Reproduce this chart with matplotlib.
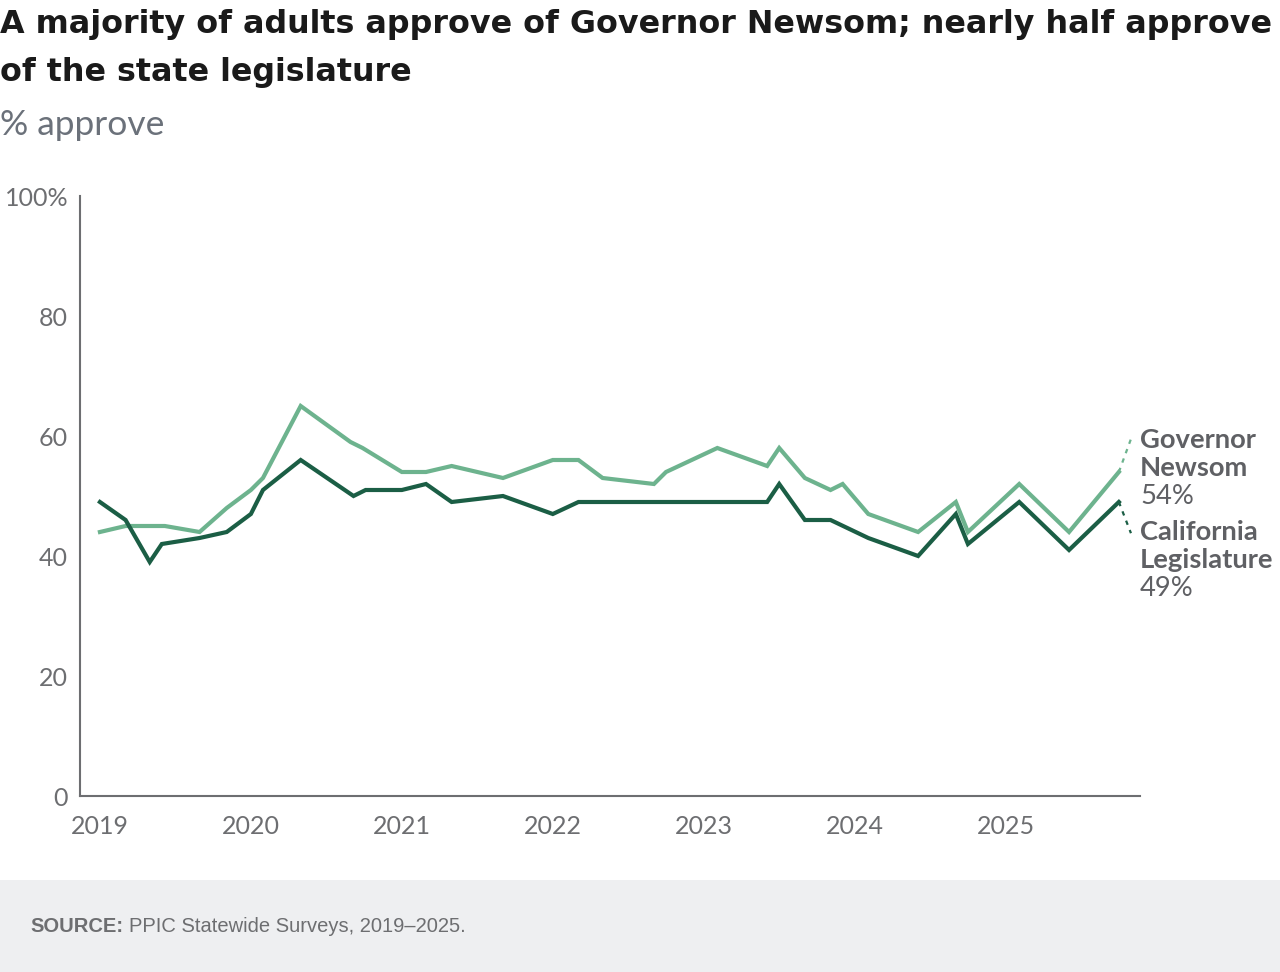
import matplotlib
matplotlib.use("Agg")
import matplotlib.pyplot as plt
from matplotlib.patches import Rectangle

plt.rcParams['font.family'] = ['Lato', 'DejaVu Sans']

# survey dates as decimal years
gov_x = [2019.00, 2019.17, 2019.43, 2019.66, 2019.84, 2020.00, 2020.08, 2020.33,
         2020.66, 2020.74, 2021.00, 2021.16, 2021.33, 2021.67, 2022.00, 2022.17,
         2022.33, 2022.67, 2022.75, 2023.09, 2023.42, 2023.50, 2023.67, 2023.84,
         2023.92, 2024.09, 2024.42, 2024.67, 2024.75, 2025.09, 2025.42, 2025.75]
gov_y = [44, 45, 45, 44, 48, 51, 53, 65,
         59, 58, 54, 54, 55, 53, 56, 56,
         53, 52, 54, 58, 55, 58, 53, 51,
         52, 47, 44, 49, 44, 52, 44, 54]

leg_x = [2019.00, 2019.17, 2019.33, 2019.41, 2019.66, 2019.84, 2020.00, 2020.08,
         2020.33, 2020.68, 2020.76, 2021.00, 2021.16, 2021.33, 2021.67, 2022.00,
         2022.17, 2022.33, 2022.67, 2022.75, 2023.09, 2023.42, 2023.50, 2023.67,
         2023.84, 2024.09, 2024.42, 2024.67, 2024.75, 2025.09, 2025.42, 2025.75]
leg_y = [49, 46, 39, 42, 43, 44, 47, 51,
         56, 50, 51, 51, 52, 49, 50, 47,
         49, 49, 49, 49, 49, 49, 52, 46,
         46, 43, 40, 47, 42, 49, 41, 49]

years = [2019, 2020, 2021, 2022, 2023, 2024, 2025]
yticks = [0, 20, 40, 60, 80, 100]
ytick_labels = ['0', '20', '40', '60', '80', '100%']

light = '#6db38e'
dark = '#1b5e45'
gray = '#6d6e71'

fig = plt.figure(figsize=(12.8, 9.72), dpi=100)
ax = fig.add_axes([80 / 1280, 1 - 796 / 972, 1060 / 1280, 600 / 972])

ax.plot(gov_x, gov_y, color=light, lw=3, solid_joinstyle='miter')
ax.plot(leg_x, leg_y, color=dark, lw=3, solid_joinstyle='miter')

# dotted leaders to the labels
ax.plot([gov_x[-1], 2025.83], [gov_y[-1], 59.5], color=light, lw=1.6, ls=(0, (2, 2.5)))
ax.plot([leg_x[-1], 2025.83], [leg_y[-1], 43.8], color=dark, lw=1.6, ls=(0, (2, 2.5)))

ax.set_xlim(2018.868, 2025.89)
ax.set_ylim(0, 100)
ax.set_xticks(years)
ax.set_xticklabels([str(y) for y in years])
ax.set_yticks(yticks)
ax.set_yticklabels(ytick_labels)
ax.tick_params(length=0, labelsize=18, colors=gray, pad=8.5)
ax.tick_params(axis='x', pad=14)
for s in ['top', 'right']:
    ax.spines[s].set_visible(False)
for s in ['left', 'bottom']:
    ax.spines[s].set_color(gray)
    ax.spines[s].set_linewidth(1.5)

# end labels
lab_kw = dict(transform=fig.transFigure, fontsize=19.7, color='#5f6064', va='center', ha='left')
fig.text(1140 / 1280, 1 - 440 / 972, 'Governor', fontweight='bold', **lab_kw)
fig.text(1140 / 1280, 1 - 468 / 972, 'Newsom', fontweight='bold', **lab_kw)
fig.text(1140 / 1280, 1 - 496 / 972, '54%', **lab_kw)
fig.text(1140 / 1280, 1 - 532 / 972, 'California', fontweight='bold', **lab_kw)
fig.text(1140 / 1280, 1 - 560 / 972, 'Legislature', fontweight='bold', **lab_kw)
fig.text(1140 / 1280, 1 - 588 / 972, '49%', **lab_kw)

# title and subtitle
title_kw = dict(fontsize=22.9, fontweight='bold', color='#1a1a1a', va='center', ha='left',
                family=['DejaVu Sans'])
fig.text(0, 1 - 25 / 972, 'A majority of adults approve of Governor Newsom; nearly half approve', **title_kw)
fig.text(0, 1 - 72 / 972, 'of the state legislature', **title_kw)
fig.text(0, 1 - 125 / 972, '% approve', fontsize=25.5, color='#6b717a', va='center', ha='left')

# source band
fig.patches.append(Rectangle((0, 0), 1, 92 / 972, transform=fig.transFigure,
                             facecolor='#eeeff1', edgecolor='none', zorder=0))
fig.text(30 / 1280, 1 - 926 / 972, 'SOURCE:', fontsize=14.5, fontweight='bold', color=gray,
         family=['Liberation Sans', 'DejaVu Sans'], va='center', ha='left')
fig.text(129 / 1280, 1 - 926 / 972, 'PPIC Statewide Surveys, 2019\u20132025.', fontsize=14.5, color=gray,
         family=['Liberation Sans', 'DejaVu Sans'], va='center', ha='left')

fig.savefig('out.png', dpi=100)
